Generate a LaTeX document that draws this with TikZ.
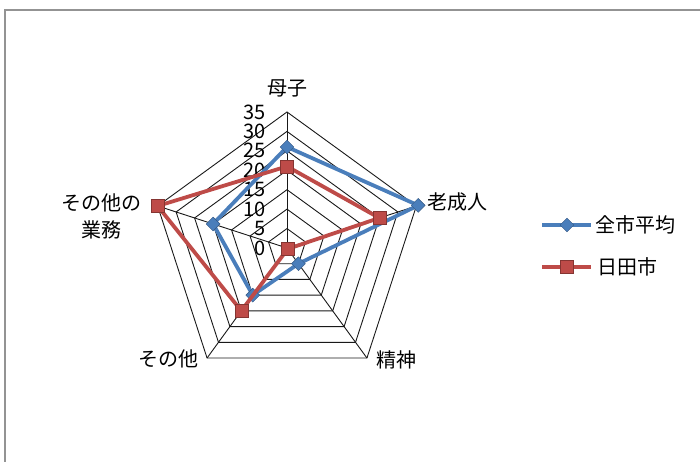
\documentclass[tikz,border=0pt]{standalone}
\usepackage{fontspec}
\setmainfont{Noto Sans CJK JP}
\usetikzlibrary{shapes,arrows}
\definecolor{avgblue}{HTML}{4A7EBB}
\definecolor{hitared}{HTML}{BE4B48}

\begin{document}
\begin{tikzpicture}[x=1pt,y=1pt,
    grid/.style={black!90,line width=0.9pt},
    avg/.style={draw=avgblue,line width=3.8pt,line join=round},
    hita/.style={draw=hitared,line width=3.8pt,line join=round},
    avgmark/.style={diamond,fill=avgblue,draw=avgblue!70!black,inner sep=0pt,minimum size=14pt},
    hitamark/.style={rectangle,fill=hitared,draw=hitared!70!black,inner sep=0pt,minimum size=13pt},
    lbl/.style={font=\fontsize{20}{27}\selectfont,inner sep=1pt,align=center}]
    \useasboundingbox (0,0) rectangle (700,462);
    \draw [gray!85,line width=1.5pt] (5,-2) -- (5,452) -- (702,452);
    % radar grid and values
    \begin{scope}[shift={(287pt,214pt)},x=3.886pt,y=3.886pt]
        \foreach \r in {5,10,...,35}
            \draw [grid] (90:\r) -- (18:\r) -- (-54:\r) -- (-126:\r) -- (162:\r) -- cycle;
        \coordinate (c) at (0,0);
        \foreach \a in {90,18,-54,-126,162}
            \draw [grid] (c) -- (\a:35);
        \foreach \v in {0,5,...,35}
            \node [lbl,anchor=east] (tick\v) at (-5.2,\v) {\v};
        \coordinate (a1) at (90:26);
        \coordinate (a2) at (18:35.5);
        \coordinate (a3) at (-54:5);
        \coordinate (a4) at (-126:15);
        \coordinate (a5) at (162:20);
        \coordinate (h1) at (90:21);
        \coordinate (h2) at (18:25);
        \coordinate (h3) at (-54:0.3);
        \coordinate (h4) at (-126:20);
        \coordinate (h5) at (162:35);
        \draw [avg] (a1) -- (a2) -- (a3) -- (a4) -- (a5) -- cycle;
        \foreach \i in {1,...,5}
            \node [avgmark] (am\i) at (a\i) {};
        \draw [hita] (h1) -- (h2) -- (h3) -- (h4) -- (h5) -- cycle;
        \foreach \i in {1,...,5}
            \node [hitamark] (hm\i) at (h\i) {};
    \end{scope}
    % axis names
    \node [lbl] (boshi) at (287,374) {母子};
    \node [lbl,anchor=west] (rousei) at (426,260) {老成人};
    \node [lbl] (seishin) at (396,102) {精神};
    \node [lbl] (sonota) at (168,103) {その他};
    \node [lbl] (gyoumu) at (101,246) {その他の\\業務};
    % legend
    \node [lbl,anchor=west] (avgtxt) at (594,237) {全市平均};
    \node [lbl,anchor=west] (hitatxt) at (596,195) {日田市};
    \coordinate (avgst) at (542,237);
    \coordinate (hitast) at (542,195);
    \draw [avg] (avgst) -- ([xshift=-3pt]avgtxt.west);
    \draw [hita] (hitast) -- ([xshift=-5pt]hitatxt.west);
    \node [avgmark] (avgkey) at (567,237) {};
    \node [hitamark] (hitakey) at (567,195) {};
\end{tikzpicture}
\end{document}
